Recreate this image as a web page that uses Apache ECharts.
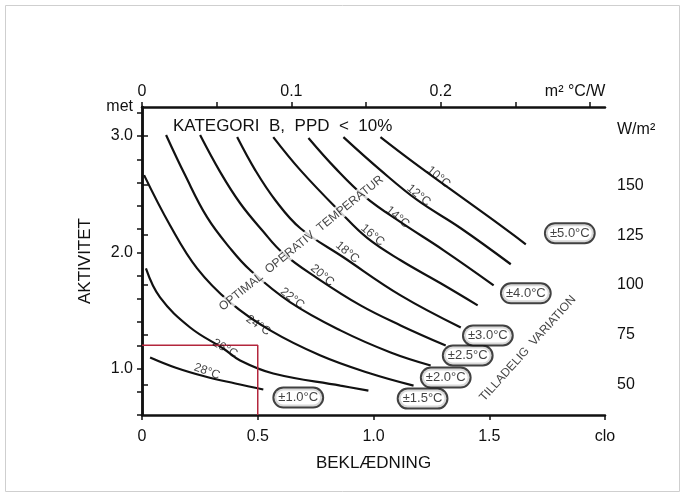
<!DOCTYPE html>
<html>
<head>
<meta charset="utf-8">
<script src="https://cdn.jsdelivr.net/npm/echarts@6/dist/echarts.min.js"></script>
<style>
  html, body { margin: 0; padding: 0; background: #fff; }
  #chart { width: 685px; height: 497px; }
</style>
</head>
<body>
<div id="chart"></div>
<script>
// comfort curves, [clo, met]
const curve28 = [[0.035,1.095],[0.143,1.009],[0.273,0.931],[0.403,0.871],[0.524,0.819]];
const curve26 = [[0.017,1.862],[0.078,1.612],[0.208,1.353],[0.351,1.172],[0.424,1.069],[0.567,0.957],[0.857,0.853],[0.978,0.810]];
const curve24 = [[0.009,2.664],[0.121,2.233],[0.238,1.862],[0.381,1.569],[0.554,1.328],[0.771,1.112],[0.987,0.957],[1.173,0.853]];
const curve22 = [[0.104,3.009],[0.186,2.664],[0.281,2.302],[0.381,2.034],[0.468,1.845],[0.641,1.569],[0.857,1.328],[1.074,1.138],[1.247,1.026]];
const curve20 = [[0.251,3.009],[0.338,2.690],[0.424,2.422],[0.519,2.190],[0.610,1.991],[0.758,1.776],[0.944,1.543],[1.117,1.371],[1.312,1.198]];
const curve18 = [[0.411,2.991],[0.489,2.707],[0.576,2.448],[0.684,2.207],[0.870,1.957],[1.117,1.629],[1.377,1.353]];
const curve16 = [[0.567,2.991],[0.684,2.707],[0.857,2.345],[0.974,2.121],[1.117,1.931],[1.290,1.733],[1.450,1.543]];
const curve14 = [[0.719,2.983],[0.835,2.724],[0.965,2.474],[1.117,2.259],[1.303,2.017],[1.519,1.716]];
const curve12 = [[0.870,2.991],[1.030,2.707],[1.190,2.448],[1.377,2.207],[1.593,1.897]];
const curve10 = [[1.030,2.991],[1.160,2.793],[1.320,2.560],[1.506,2.293],[1.658,2.069]];
const curves = [curve28, curve26, curve24, curve22, curve20, curve18, curve16, curve14, curve12, curve10];

// temperature labels on the curves
const tempNames = ['28°C','26°C','24°C','22°C','20°C','18°C','16°C','14°C','12°C','10°C'];
const tempLabelPos = [[0.281,0.974],[0.359,1.172],[0.502,1.371],[0.649,1.603],[0.779,1.802],[0.887,2.000],[0.996,2.147],[1.104,2.302],[1.195,2.491],[1.281,2.647]];
const tempAngles = [-20, -30, -35, -38, -40, -40, -40, -40, -40, -40];

// allowed variation boxes
const tolNames = ['±1.0°C','±1.5°C','±2.0°C','±2.5°C','±3.0°C','±4.0°C','±5.0°C'];
const tolPos = [[0.675,0.750],[1.212,0.741],[1.312,0.922],[1.407,1.112],[1.494,1.284],[1.658,1.647],[1.848,2.164]];

// red marker: 0.5 clo / 1.2 met
const redLine = [[0, 1.2], [0.5, 1.2], [0.5, 0.6]];

// axis ticks
const cloTicks = [0, 0.5, 1.0, 1.5, 2.0];
const metTicks = [0.6, 0.8, 1.0, 1.2, 1.4, 1.6, 1.8, 2.0, 2.2, 2.4, 2.6, 2.8, 3.0, 3.2];
const metLabels = [1.0, 2.0, 3.0, 3.25];
const wTicks = [50, 75, 100, 125, 150, 175];
const wLabels = [50, 75, 100, 125, 150, 178];
const rTicks = [0, 0.05, 0.1, 0.15, 0.2, 0.25, 0.3];
const rLabels = [0, 0.1, 0.2, 0.29];

const W_PER_MET = 58.2;
const R_PER_CLO = 0.155;
const font = "'Liberation Sans', Arial, sans-serif";
const ink = '#111';

const axisLine = { lineStyle: { color: ink, width: 2.5 } };
const tickStyle = { color: ink, width: 1.5 };

const chart = echarts.init(document.getElementById('chart'));

const series = curves.map(c => ({
  type: 'line',
  data: c,
  smooth: 0.4,
  symbol: 'none',
  lineStyle: { color: ink, width: 2.2 },
  silent: true,
  z: 2
}));

series.push({
  type: 'line',
  data: redLine,
  symbol: 'none',
  lineStyle: { color: '#b3263c', width: 1.5 },
  silent: true,
  z: 3
});

// plain text, no outline
const plainLabel = { show: true, position: 'inside', formatter: '{b}', color: ink, fontFamily: font, textBorderWidth: 0, textShadowBlur: 0 };

series.push({
  type: 'scatter',
  data: tempLabelPos.map((p, i) => ({ value: p, name: tempNames[i], label: { rotate: tempAngles[i] } })),
  symbolSize: 1,
  itemStyle: { color: 'rgba(0,0,0,0)' },
  label: Object.assign({}, plainLabel, { fontSize: 12 }),
  silent: true,
  z: 5
});

series.push({
  type: 'scatter',
  data: tolPos.map((p, i) => ({ value: p, name: tolNames[i] })),
  symbolSize: 1,
  itemStyle: { color: 'rgba(0,0,0,0)' },
  label: Object.assign({}, plainLabel, {
    fontSize: 13, backgroundColor: '#fff', borderColor: ink, borderWidth: 2,
    borderRadius: 9, padding: [3, 4, 2, 4], shadowBlur: 0
  }),
  silent: true,
  z: 6
});

series.push({
  type: 'scatter',
  data: [
    { value: [0.688, 2.078], name: 'OPTIMAL  OPERATIV  TEMPERATUR', label: { rotate: 39 } },
    { value: [1.667, 1.172], name: 'TILLADELIG  VARIATION', label: { rotate: 48 } }
  ],
  symbolSize: 1,
  itemStyle: { color: 'rgba(0,0,0,0)' },
  label: Object.assign({}, plainLabel, { fontSize: 12, backgroundColor: '#fff', padding: [1, 2] }),
  silent: true,
  z: 5
});

const option = {
  animation: false,
  backgroundColor: '#fff',
  textStyle: { fontFamily: font },
  grid: { left: 142, top: 107, width: 463, height: 308 },
  graphic: [
    { type: 'rect', shape: { x: 5.5, y: 5.5, width: 674, height: 486 }, style: { fill: 'none', stroke: '#cfcfcf', lineWidth: 1 }, z: -1 },
    { type: 'text', left: 173, top: 118, style: { text: 'KATEGORI  B,  PPD  <  10%', font: "17px 'Liberation Sans', Arial, sans-serif", fill: ink }, z: 10 }
  ],
  xAxis: [
    {
      type: 'value', position: 'bottom', min: 0, max: 2, interval: 0.5,
      axisLine: axisLine,
      axisTick: { length: 5, lineStyle: tickStyle, customValues: cloTicks },
      axisLabel: {
        margin: 14, fontSize: 16, color: ink, customValues: cloTicks,
        formatter: v => v === 2 ? 'clo' : (v === 0 ? '0' : v.toFixed(1))
      },
      splitLine: { show: false },
      name: 'BEKLÆDNING', nameLocation: 'middle', nameGap: 40,
      nameTextStyle: { fontSize: 17, color: ink }
    },
    {
      type: 'value', position: 'top', min: 0, max: 2,
      axisLine: axisLine,
      axisTick: { length: 5, lineStyle: tickStyle, customValues: rTicks.map(r => r / R_PER_CLO) },
      axisLabel: {
        margin: 7, fontSize: 16, color: ink, customValues: rLabels.map(r => r / R_PER_CLO),
        formatter: v => {
          const r = Math.round(v * R_PER_CLO * 100) / 100;
          if (r > 0.25) return 'm² °C/W';
          return r === 0 ? '0' : r.toFixed(1);
        }
      },
      splitLine: { show: false }
    }
  ],
  yAxis: [
    {
      type: 'value', position: 'left', min: 0.6, max: 3.25,
      axisLine: axisLine,
      axisTick: { length: 5, lineStyle: tickStyle, customValues: metTicks },
      axisLabel: {
        margin: 9, fontSize: 16, color: ink, customValues: metLabels,
        formatter: v => v > 3.1 ? 'met' : v.toFixed(1)
      },
      splitLine: { show: false },
      name: 'AKTIVITET', nameLocation: 'middle', nameRotate: 90, nameGap: 48,
      nameTextStyle: { fontSize: 17, color: ink }
    },
    {
      type: 'value', position: 'right', min: 0.6, max: 3.25,
      axisLine: axisLine,
      axisTick: { length: 6, lineStyle: tickStyle, customValues: wTicks.map(w => w / W_PER_MET) },
      axisLabel: {
        margin: 12, fontSize: 16, color: ink, customValues: wLabels.map(w => w / W_PER_MET),
        formatter: v => {
          const w = Math.round(v * W_PER_MET);
          return w > 160 ? 'W/m²' : String(w);
        }
      },
      splitLine: { show: false }
    }
  ],
  series: series
};

chart.setOption(option);
</script>
</body>
</html>
